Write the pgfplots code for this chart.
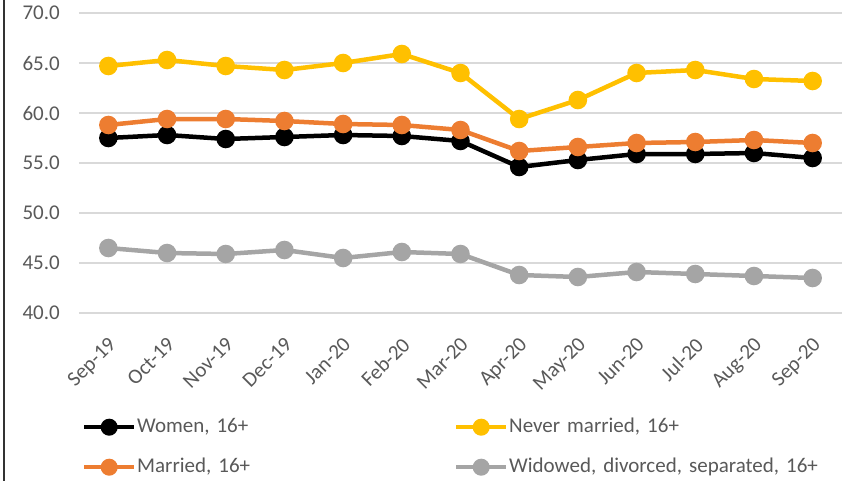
\documentclass[border=0pt]{standalone}
\usepackage{pgfplots}
\pgfplotsset{compat=1.18}
\usepackage{pgfplotstable}
\usepackage{fontspec}
\setmainfont{Carlito}
\definecolor{cyellow}{HTML}{FFC000}
\definecolor{corange}{HTML}{ED7D31}
\definecolor{cgray}{HTML}{A5A5A5}
\definecolor{gridgray}{HTML}{D9D9D9}
\definecolor{labgray}{HTML}{595959}
\pgfplotstableread{
x women never married widowed
0  57.5 64.7 58.8 46.5
1  57.8 65.3 59.4 46.0
2  57.4 64.7 59.4 45.9
3  57.6 64.3 59.2 46.3
4  57.8 65.0 58.9 45.5
5  57.7 65.9 58.8 46.1
6  57.2 64.0 58.3 45.9
7  54.6 59.4 56.2 43.8
8  55.3 61.3 56.6 43.6
9  55.9 64.0 57.0 44.1
10 55.9 64.3 57.1 43.9
11 56.0 63.4 57.3 43.7
12 55.5 63.2 57.0 43.5
}\datatable
\begin{document}
\begin{tikzpicture}[font=\fontsize{21bp}{25bp}\selectfont]
\useasboundingbox (-79bp,-168bp) rectangle (769bp,313bp);
\draw[line width=2.5bp, black!80] (-75bp,-168bp) -- (-75bp,313bp);
\begin{axis}[
  at={(0,0)}, anchor=south west,
  scale only axis, width=763bp, height=300bp,
  xmin=-0.5, xmax=12.5, ymin=40, ymax=70,
  ytick={40,45,...,70},
  xtick={0,...,12},
  xticklabels={Sep-19,Oct-19,Nov-19,Dec-19,Jan-20,Feb-20,Mar-20,Apr-20,May-20,Jun-20,Jul-20,Aug-20,Sep-20},
  axis line style={draw=none}, tick style={draw=none},
  ymajorgrids, grid style={line width=1.5bp, color=gridgray},
  /pgf/number format/assume math mode=true,
  yticklabel style={/pgf/number format/.cd, fixed, fixed zerofill, precision=1, /tikz/.cd,
     inner sep=0pt, xshift=-19bp, text=labgray},
  xticklabel style={xshift=-1bp, yshift=-23bp, rotate=45, anchor=north east, inner sep=0pt, text=labgray},
  clip=false,
  every axis plot/.append style={line width=4.5bp, mark=*, mark size=7bp, mark options={solid}},
  legend columns=2,
  legend image code/.code={\draw[mark repeat=2,mark phase=2,mark size=6.5bp,line width=4bp] plot coordinates {(0bp,0bp) (25bp,0bp) (50bp,0bp)};},
  legend style={at={(rel axis cs:0,0)}, anchor=north west, xshift=3bp, yshift=-104bp,
     draw=none, fill=none, inner sep=0pt, row sep=20bp,
     nodes={inner sep=0pt, text height=15bp, text depth=5bp, text width=317bp, align=left, anchor=west, text=labgray},
     /tikz/every odd column/.append style={column sep=1bp},
     /tikz/every even column/.append style={column sep=0bp}},
]
\addplot[color=black] table[x=x,y=women] {\datatable};
\addlegendentry{Women, 16+}
\addplot[color=cyellow] table[x=x,y=never] {\datatable};
\addlegendentry{Never married, 16+}
\addplot[color=corange] table[x=x,y=married] {\datatable};
\addlegendentry{Married, 16+}
\addplot[color=cgray] table[x=x,y=widowed] {\datatable};
\addlegendentry{Widowed, divorced, separated, 16+}
\end{axis}
\end{tikzpicture}
\end{document}
